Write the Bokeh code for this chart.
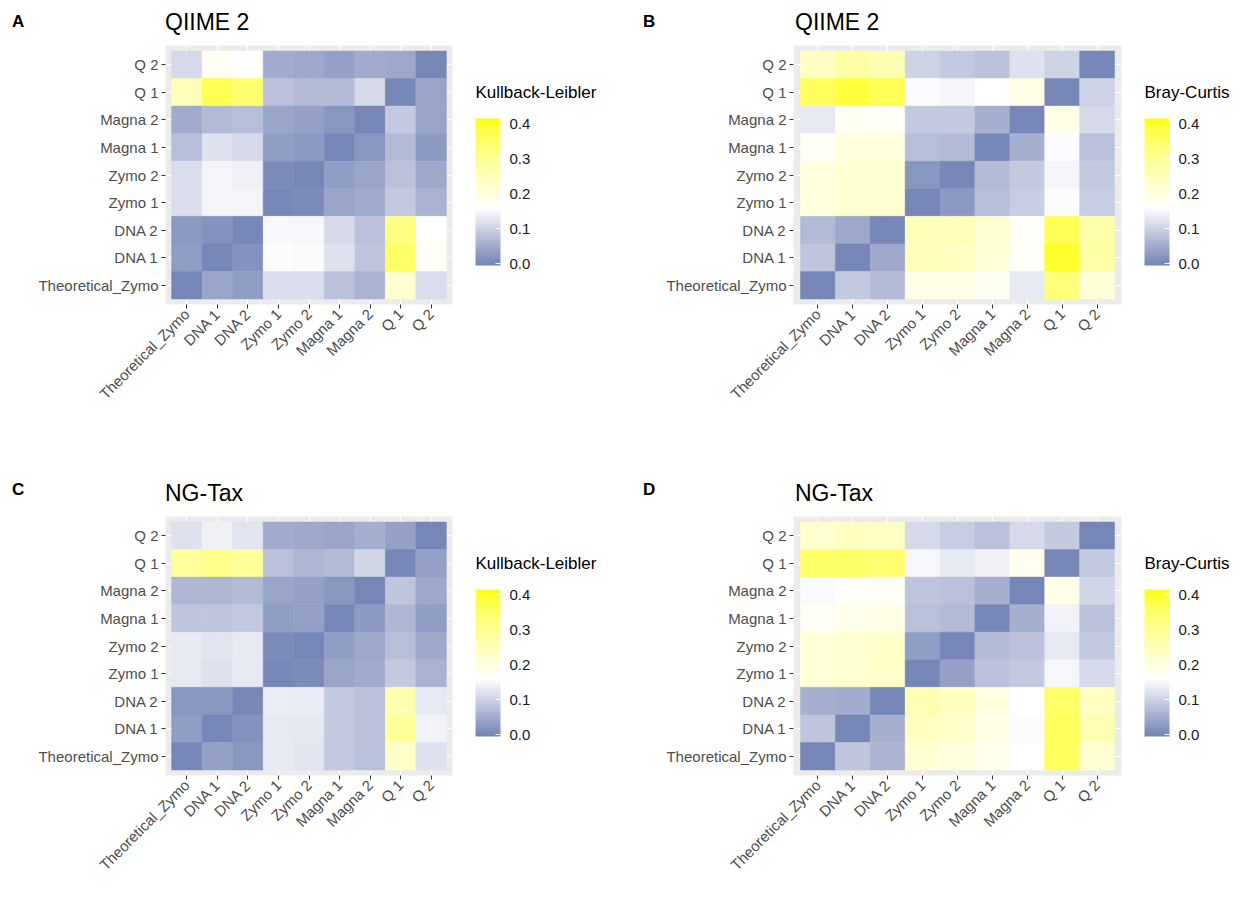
import math
from bokeh.plotting import figure
from bokeh.models import (LinearColorMapper, ColorBar, FixedTicker, Div,
                          CategoricalAxis, CustomJSTickFormatter,
                          PrintfTickFormatter, FactorRange, ColumnDataSource)
from bokeh.layouts import column, row
from bokeh.embed import file_html
from bokeh.resources import INLINE

# ---------------- data ----------------
samples = ["Theoretical_Zymo", "DNA 1", "DNA 2", "Zymo 1", "Zymo 2",
           "Magna 1", "Magna 2", "Q 1", "Q 2"]
# rows are listed from the top row (Q 2) down to the bottom row (Theoretical_Zymo);
# columns follow `samples` from left to right
rows_top_down = samples[::-1]

qiime_kl = [
    [0.110, 0.170, 0.160, 0.050, 0.045, 0.035, 0.050, 0.045, 0.000],
    [0.250, 0.370, 0.340, 0.080, 0.070, 0.070, 0.110, 0.000, 0.040],
    [0.050, 0.070, 0.075, 0.040, 0.035, 0.020, 0.000, 0.090, 0.040],
    [0.075, 0.120, 0.110, 0.030, 0.025, 0.000, 0.020, 0.070, 0.025],
    [0.115, 0.145, 0.140, 0.005, 0.000, 0.030, 0.040, 0.080, 0.045],
    [0.115, 0.147, 0.145, 0.000, 0.005, 0.040, 0.050, 0.090, 0.060],
    [0.025, 0.015, 0.000, 0.150, 0.148, 0.110, 0.080, 0.320, 0.160],
    [0.030, 0.000, 0.015, 0.155, 0.152, 0.120, 0.085, 0.350, 0.170],
    [0.000, 0.040, 0.030, 0.115, 0.115, 0.080, 0.060, 0.220, 0.115],
]

qiime_bc = [
    [0.240, 0.280, 0.260, 0.100, 0.090, 0.080, 0.120, 0.100, 0.000],
    [0.360, 0.390, 0.370, 0.155, 0.145, 0.158, 0.190, 0.000, 0.100],
    [0.130, 0.175, 0.170, 0.090, 0.090, 0.055, 0.000, 0.190, 0.110],
    [0.170, 0.200, 0.200, 0.075, 0.070, 0.000, 0.055, 0.155, 0.080],
    [0.200, 0.220, 0.220, 0.020, 0.000, 0.070, 0.090, 0.145, 0.090],
    [0.200, 0.220, 0.220, 0.000, 0.025, 0.075, 0.095, 0.155, 0.095],
    [0.070, 0.045, 0.000, 0.250, 0.250, 0.220, 0.165, 0.370, 0.270],
    [0.085, 0.000, 0.045, 0.250, 0.240, 0.210, 0.165, 0.400, 0.280],
    [0.000, 0.090, 0.070, 0.190, 0.190, 0.175, 0.130, 0.330, 0.210],
]

ngtax_kl = [
    [0.120, 0.140, 0.125, 0.050, 0.045, 0.040, 0.055, 0.035, 0.000],
    [0.290, 0.310, 0.290, 0.080, 0.065, 0.070, 0.105, 0.000, 0.035],
    [0.065, 0.065, 0.070, 0.040, 0.035, 0.020, 0.000, 0.085, 0.045],
    [0.085, 0.085, 0.090, 0.030, 0.035, 0.000, 0.025, 0.065, 0.030],
    [0.130, 0.125, 0.130, 0.005, 0.000, 0.030, 0.045, 0.075, 0.045],
    [0.130, 0.120, 0.130, 0.000, 0.005, 0.040, 0.050, 0.090, 0.060],
    [0.020, 0.020, 0.000, 0.135, 0.133, 0.090, 0.080, 0.260, 0.130],
    [0.030, 0.000, 0.015, 0.130, 0.128, 0.090, 0.080, 0.290, 0.143],
    [0.000, 0.035, 0.020, 0.130, 0.125, 0.087, 0.078, 0.230, 0.120],
]

ngtax_bc = [
    [0.220, 0.240, 0.235, 0.110, 0.095, 0.080, 0.110, 0.090, 0.000],
    [0.350, 0.350, 0.340, 0.148, 0.130, 0.140, 0.180, 0.000, 0.090],
    [0.152, 0.165, 0.170, 0.085, 0.080, 0.055, 0.000, 0.190, 0.105],
    [0.170, 0.185, 0.190, 0.078, 0.070, 0.000, 0.055, 0.143, 0.080],
    [0.210, 0.220, 0.230, 0.030, 0.000, 0.070, 0.080, 0.130, 0.090],
    [0.210, 0.220, 0.230, 0.000, 0.035, 0.080, 0.090, 0.148, 0.110],
    [0.055, 0.050, 0.000, 0.260, 0.240, 0.200, 0.160, 0.350, 0.240],
    [0.085, 0.000, 0.055, 0.240, 0.230, 0.190, 0.155, 0.360, 0.260],
    [0.000, 0.085, 0.060, 0.220, 0.200, 0.185, 0.160, 0.360, 0.220],
]

legend_ticks = [0.0, 0.1, 0.2, 0.3, 0.4]

# ---------------- colour scale (Lab interpolation like ggplot) ----------------
LOW, MID, HIGH = "#7284B5", "#FFFFFF", "#FFFF00"
VMIN, VMID, VMAX = -0.005, 0.158, 0.415


def _hex_to_lab(h):
    h = h.lstrip("#")
    rgb = [int(h[i:i + 2], 16) / 255 for i in (0, 2, 4)]
    lin = [c / 12.92 if c <= 0.04045 else ((c + 0.055) / 1.055) ** 2.4 for c in rgb]
    X = 0.4124 * lin[0] + 0.3576 * lin[1] + 0.1805 * lin[2]
    Y = 0.2126 * lin[0] + 0.7152 * lin[1] + 0.0722 * lin[2]
    Z = 0.0193 * lin[0] + 0.1192 * lin[1] + 0.9505 * lin[2]
    Xn, Yn, Zn = 0.95047, 1.0, 1.08883

    def f(t):
        return t ** (1 / 3) if t > 0.008856 else 7.787 * t + 16 / 116
    fx, fy, fz = f(X / Xn), f(Y / Yn), f(Z / Zn)
    return (116 * fy - 16, 500 * (fx - fy), 200 * (fy - fz))


def _lab_to_hex(lab):
    L, a, b = lab
    fy = (L + 16) / 116
    fx = fy + a / 500
    fz = fy - b / 200

    def finv(t):
        return t ** 3 if t ** 3 > 0.008856 else (t - 16 / 116) / 7.787
    X, Y, Z = 0.95047 * finv(fx), finv(fy), 1.08883 * finv(fz)
    lin = [3.2406 * X - 1.5372 * Y - 0.4986 * Z,
           -0.9689 * X + 1.8758 * Y + 0.0415 * Z,
           0.0557 * X - 0.2040 * Y + 1.0570 * Z]
    out = []
    for c in lin:
        c = max(0.0, min(1.0, c))
        c = 12.92 * c if c <= 0.0031308 else 1.055 * c ** (1 / 2.4) - 0.055
        out.append(int(round(max(0, min(1, c)) * 255)))
    return "#%02x%02x%02x" % tuple(out)


def build_palette(n=256):
    lo, mi, hi = _hex_to_lab(LOW), _hex_to_lab(MID), _hex_to_lab(HIGH)
    pal = []
    for k in range(n):
        v = VMIN + (VMAX - VMIN) * k / (n - 1)
        if v <= VMID:
            t = (v - VMIN) / (VMID - VMIN)
            a, b = lo, mi
        else:
            t = (v - VMID) / (VMAX - VMID)
            a, b = mi, hi
        pal.append(_lab_to_hex(tuple(a[i] + (b[i] - a[i]) * t for i in range(3))))
    return pal


PALETTE = build_palette()
FONT = "Liberation Sans"


def header(letter, title, left_w, total_w, h, letter_pad, letter_top, title_pad, title_top):
    d1 = Div(text=('<div style="padding:%dpx 0 0 %dpx;font-family:\'Liberation Sans\';'
                   'font-size:17px;font-weight:bold;line-height:20px;color:#000">%s</div>'
                   % (letter_top, letter_pad, letter)),
             width=left_w, height=h, margin=0)
    d2 = Div(text=('<div style="padding:%dpx 0 0 %dpx;font-family:\'Liberation Sans\';'
                   'font-size:23px;line-height:28px;color:#000">%s</div>'
                   % (title_top, title_pad, title)),
             width=total_w - left_w, height=h, margin=0)
    return row(d1, d2)


def make_panel(letter, title, legend_title, matrix, total_w, bl, frame_w, bb,
               head_h, letter_pad, letter_top, title_pad, title_top):
    frame_h = 259
    xs, ys, vs = [], [], []
    for i, rname in enumerate(rows_top_down):
        for j, cname in enumerate(samples):
            xs.append(cname)
            ys.append(rname)
            vs.append(matrix[i][j])
    src = ColumnDataSource(dict(x=xs, y=ys, v=vs))
    mapper = LinearColorMapper(palette=PALETTE, low=VMIN, high=VMAX)

    br = total_w - bl - frame_w
    p = figure(width=total_w, height=frame_h + bb,
               x_range=FactorRange(factors=samples, range_padding=0.2,
                                   range_padding_units="absolute"),
               y_range=FactorRange(factors=samples, range_padding=0.2,
                                   range_padding_units="absolute"),
               output_backend="svg", toolbar_location=None,
               min_border_left=bl, min_border_right=br,
               min_border_top=0, min_border_bottom=bb)
    p.background_fill_color = "#EBEBEB"
    p.border_fill_color = "white"
    p.outline_line_color = None
    p.grid.grid_line_color = "white"
    p.grid.grid_line_width = 1.2

    p.rect(x="x", y="y", width=1, height=1, source=src,
           fill_color={"field": "v", "transform": mapper},
           line_color={"field": "v", "transform": mapper}, line_width=0.5)

    for ax in (p.xaxis, p.yaxis):
        ax.axis_line_color = None
        ax.major_tick_line_color = "#333333"
        ax.major_tick_out = 4
        ax.major_tick_in = 0
        ax.major_label_text_font = FONT
        ax.major_label_text_font_size = "15px"
        ax.major_label_text_color = "#4D4D4D"
        ax.major_label_standoff = 3
    p.xaxis.major_label_orientation = math.pi / 4

    # legend title: a label-only axis on the right side, shown once beside the colour bar
    fmt = CustomJSTickFormatter(args=dict(t=legend_title),
                                code="return tick == 'Q 1' ? t : '';")
    lax = CategoricalAxis(formatter=fmt,
                          axis_line_color=None, major_tick_line_color=None,
                          minor_tick_line_color=None, major_tick_out=0,
                          major_tick_in=0, major_label_standoff=23,
                          major_label_text_font=FONT,
                          major_label_text_font_size="17px",
                          major_label_text_color="#000000")
    p.add_layout(lax, "right")

    cb = ColorBar(color_mapper=mapper, width=25, height=147,
                  location=(frame_w + 23, 39),
                  padding=0, margin=0,
                  background_fill_color=None, border_line_color=None,
                  ticker=FixedTicker(ticks=legend_ticks),
                  formatter=PrintfTickFormatter(format="%.1f"),
                  major_tick_line_color="white", major_tick_in=5,
                  major_tick_out=0, minor_tick_line_color=None,
                  bar_line_color=None,
                  major_label_text_font=FONT,
                  major_label_text_font_size="15px",
                  major_label_text_color="#1A1A1A",
                  label_standoff=9)
    p.add_layout(cb, "center")

    return column(header(letter, title, bl, total_w, head_h,
                         letter_pad, letter_top, title_pad, title_top), p)


pa = make_panel("A", "QIIME 2", "Kullback-Leibler", qiime_kl,
                628, 165, 287, 175, 45, 12, 12, 0, 8)
pb = make_panel("B", "QIIME 2", "Bray-Curtis", qiime_bc,
                622, 165, 328, 175, 45, 15, 12, 2, 8)
pc = make_panel("C", "NG-Tax", "Kullback-Leibler", ngtax_kl,
                628, 165, 287, 120, 37, 12, 1, 0, 0)
pd = make_panel("D", "NG-Tax", "Bray-Curtis", ngtax_bc,
                622, 165, 328, 120, 37, 15, 1, 2, 0)

layout = column(row(pa, pb), row(pc, pd))
open("out.html", "w").write(file_html(layout, INLINE))
